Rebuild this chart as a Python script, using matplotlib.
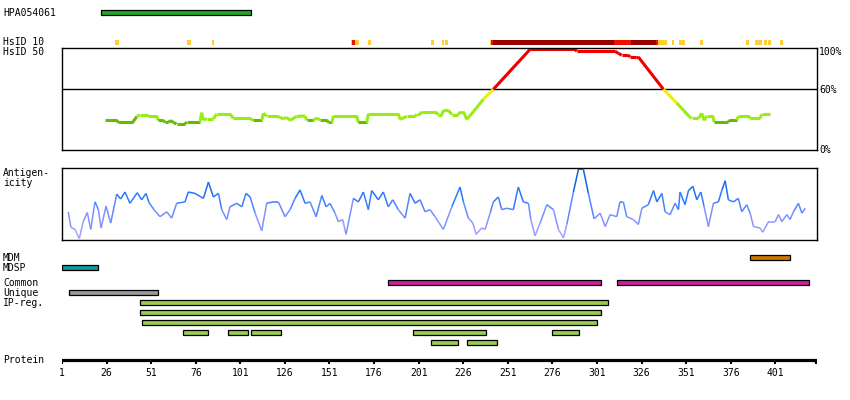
import numpy as np
import matplotlib.pyplot as plt
from matplotlib.collections import LineCollection
from matplotlib.colors import LinearSegmentedColormap

plt.rcParams['font.family'] = ['DejaVu Sans Mono']
FS = 7

# ---- data (residue positions) ----
protein_len = 424
tick_pos = list(range(1, 402, 25))

hpa_name = 'HPA054061'
hpa_range = [(23, 107)]

hsid10_start = [30.7, 71.3, 85.1, 163.1, 163.8, 165.3, 172.6, 208, 214.1, 215.8, 241, 241.6,
                242.6, 310.6, 319.9, 334.1, 335.3, 343.2, 347.2, 358.8, 384.6, 389.7, 394.7,
                396.9, 403.7]
hsid10_end = [33.1, 73.2, 86.1, 163.8, 165.3, 167.4, 174.1, 209.6, 215.2, 217.3, 241.6, 242.6,
              310.6, 319.9, 334.1, 335.3, 340.4, 344.3, 350.6, 360.3, 386.3, 393.6, 396.4,
              398.6, 405.4]
hsid10_level = ['y', 'y', 'y', 'y', 'r', 'y', 'y', 'y', 'y', 'y', 'y', 'r',
                'd', 'r', 'd', 'r', 'y', 'y', 'y', 'y', 'y', 'y', 'y', 'y', 'y']

hsid50_pos = [25.1, 31.7, 32.6, 40.6, 42.9, 44.7, 48.5, 49.4, 54.1, 55, 57.8, 58.8, 60.6, 62,
              63.4, 65.3, 70, 70.9, 78.4, 79.3, 80.3, 82.2, 85.9, 87.8, 95.2, 97.1, 106.4,
              108.3, 113, 113.9, 115.8, 121.4, 123.3, 125.1, 127, 128.9, 132.6, 137.3, 138.2,
              141.9, 143.8, 145.7, 149.5, 150.4, 152.3, 153.2, 166.3, 167.2, 171.9, 172.8,
              189.6, 190.6, 194.3, 199, 200, 201.8, 202.8, 210.2, 212.1, 214, 214.9, 217.7,
              219.6, 223.3, 224.2, 226.1, 228, 231.7, 237.3, 242.9, 263.5, 288.7, 289.7,
              311.2, 313, 314.9, 318.6, 319.6, 323, 324.2, 338.3, 345.8, 353.2, 354.1, 357.9,
              359.8, 361.1, 362.6, 366, 366.7, 374.7, 375.3, 379.4, 380.3, 386, 387, 392.5,
              393.4, 398.1]
hsid50_val = [29, 29, 27, 27, 32.7, 34.6, 34.6, 33, 33, 29, 29, 27, 27, 29,
              27, 25.5, 25.5, 27.4, 27.4, 36.6, 29.4, 30.7, 30.7, 35.3, 35.3, 31, 31,
              29, 29, 36, 33, 33, 32, 30.5, 32, 29, 33, 33.3, 29,
              29, 31.4, 29.4, 29.4, 27, 27, 33.3, 33.3, 27, 27, 35.6,
              35.6, 30, 33, 33, 35, 35, 37.6, 37.6, 34.6, 34.6, 39, 39,
              34.6, 34.6, 37.6, 37.6, 30, 37.6, 49.7, 59.5, 98.7, 98.7, 96.7,
              96.7, 94.8, 93, 93, 91.2, 91.2, 91.2, 59.5, 46, 32, 31, 31,
              36, 29, 33.3, 33.3, 27.4, 27.4, 29.4, 29.4, 33, 33, 31, 31,
              35, 35]

antigen_pos = [4.5, 6.0, 8.3, 10.7, 12.9, 15.2, 17.1, 19.5, 21.4, 22.9, 25.7, 28.3, 31.7, 33.9,
               36.3, 39.1, 43.2, 45.7, 48.1, 49.8, 52.6, 56.0, 59.7, 62.5, 65.3, 70.0, 71.8,
               75.6, 80.3, 83.1, 85.9, 88.7, 90.6, 93.4, 95.2, 99.0, 101.8, 104.2, 106.5,
               109.3, 113.0, 115.8, 119.5, 122.3, 126.1, 128.9, 131.7, 134.5, 137.3, 140.1,
               143.5, 146.7, 149.1, 151.3, 154.1, 156.0, 158.4, 160.3, 164.4, 167.2, 170.0,
               172.8, 174.7, 178.4, 181.2, 184.0, 186.5, 189.6, 193.4, 196.2, 199.0, 201.8,
               204.6, 207.4, 210.2, 214.9, 219.6, 224.2, 226.1, 228.9, 231.4, 233.2, 236.4,
               238.3, 241.1, 242.9, 245.7, 247.6, 250.4, 254.1, 256.9, 259.7, 262.6, 263.9,
               266.3, 269.1, 272.9, 276.6, 279.4, 282.2, 284.1, 287.8, 290.6, 293.4, 296.2,
               299.4, 302.8, 305.6, 308.4, 312.1, 313.9, 315.8, 317.7, 321.4, 324.2, 326.2,
               329.8, 332.7, 334.6, 337.4, 339.2, 342.0, 344.8, 346.7, 347.6, 350.4, 352.3,
               354.8, 357.0, 359.3, 361.1, 363.5, 366.3, 369.1, 371.0, 372.9, 374.7, 377.5,
               380.3, 382.2, 385.0, 386.9, 388.8, 392.5, 394.0, 397.2, 400.9, 402.8, 404.7,
               407.5, 409.3, 411.2, 414.0, 415.9, 417.8]
antigen_val = [0.39, 0.17, 0.14, 0.01, 0.25, 0.38, 0.14, 0.53, 0.42, 0.16, 0.47, 0.23, 0.64, 0.57,
               0.67, 0.51, 0.66, 0.56, 0.65, 0.52, 0.42, 0.32, 0.39, 0.30, 0.51, 0.53, 0.67,
               0.65, 0.58, 0.81, 0.60, 0.65, 0.42, 0.28, 0.46, 0.51, 0.46, 0.65, 0.60,
               0.37, 0.12, 0.51, 0.53, 0.53, 0.32, 0.42, 0.58, 0.70, 0.51, 0.53,
               0.32, 0.62, 0.46, 0.51, 0.37, 0.25, 0.28, 0.07, 0.58, 0.53, 0.67,
               0.42, 0.69, 0.56, 0.67, 0.46, 0.56, 0.42, 0.30, 0.65, 0.51, 0.56,
               0.39, 0.42, 0.32, 0.14, 0.46, 0.74, 0.53, 0.30, 0.23, 0.07, 0.16,
               0.14, 0.37, 0.53, 0.60, 0.42, 0.44, 0.42, 0.74, 0.53, 0.51, 0.28,
               0.05, 0.23, 0.49, 0.42, 0.14, 0.02, 0.21, 0.67, 0.99, 0.99, 0.65,
               0.29, 0.37, 0.18, 0.35, 0.32, 0.53, 0.53, 0.32, 0.28, 0.21, 0.44,
               0.49, 0.69, 0.53, 0.65, 0.39, 0.35, 0.51, 0.42, 0.67, 0.49, 0.69,
               0.75, 0.56, 0.67, 0.46, 0.18, 0.51, 0.53, 0.69, 0.83, 0.56, 0.53,
               0.58, 0.39, 0.49, 0.37, 0.18, 0.16, 0.10, 0.25, 0.25, 0.35, 0.25,
               0.35, 0.28, 0.39, 0.51, 0.37, 0.44]

mdm_ranges = [(387, 409)]
mdsp_ranges = [(1, 21)]
common_ranges = [(184, 303), (312, 420)]
unique_ranges = [(5, 55)]
ipreg_rows = [
    [(45, 307)],
    [(45, 303)],
    [(46, 301)],
    [(69, 83), (94, 105.5), (107, 124), (198, 239), (276, 291)],
    [(208, 223), (228, 245)],
]

# ---- layout (pixels) ----
W, H = 850, 400
X0, X1 = 62, 817
XLIM = (1, 424.4)

fig = plt.figure(figsize=(W / 100, H / 100), dpi=100)


def px_axes(x0, y0, x1, y1):
    return fig.add_axes([x0 / W, 1 - y1 / H, (x1 - x0) / W, (y1 - y0) / H])


def label(x, y, s, **kw):
    fig.text(x / W, 1 - y / H, s, fontsize=FS, va='center', **kw)


# overlay for bar tracks, y in pixels
ov = px_axes(X0, 0, X1, H)
ov.set_xlim(*XLIM)
ov.set_ylim(H, 0)
ov.axis('off')


def bars(ranges, yc, color, h=5, edge=True):
    for s, e in ranges:
        ov.barh(yc, e - s, left=s, height=h, color=color,
                edgecolor='black' if edge else 'none', linewidth=0.9 if edge else 0)


bars(hpa_range, 12.5, '#22a722')

lvl_col = {'y': '#ffcc33', 'r': '#ee1100', 'd': '#990000'}
for s, e, l in zip(hsid10_start, hsid10_end, hsid10_level):
    ov.barh(42.5, e - s, left=s, height=5, color=lvl_col[l], linewidth=0)

bars(mdm_ranges, 257.8, '#cc7700')
bars(mdsp_ranges, 267.8, '#139aa0')
bars(common_ranges, 282.4, '#cc1f9e')
bars(unique_ranges, 292.4, '#999999')
for i, row in enumerate(ipreg_rows):
    bars(row, 302.4 + 10 * i, '#99cc55')

# protein axis
ov.hlines(359.5, 1, protein_len, color='black', lw=2.3)
ov.vlines(tick_pos + [protein_len], 359, 364, color='black', lw=1.5)
for t in tick_pos:
    ov.text(t, 372.5, str(t), ha='center', va='center', fontsize=FS)

# ---- HsID 50 panel ----
ax1 = px_axes(X0, 48, X1, 150)
ax1.set_xlim(*XLIM)
ax1.set_ylim(0, 100)
ax1.set_xticks([])
ax1.set_yticks([])
for sp in ax1.spines.values():
    sp.set_linewidth(1.0)
ax1.axhline(60, color='black', lw=1.0)


def id_color(v):
    if v >= 60:
        return '#ee0000'
    if v >= 45:
        return '#eeee11'
    if v >= 30:
        return '#99ee11'
    return '#66bb00'


p = np.column_stack([hsid50_pos, hsid50_val])
segs = np.stack([p[:-1], p[1:]], axis=1)
cols = [id_color((a + b) / 2) for a, b in zip(hsid50_val[:-1], hsid50_val[1:])]
ax1.add_collection(LineCollection(segs, colors=cols, linewidths=2.2, capstyle='butt'))

label(819, 52, '100%')
label(819, 90, '60%')
label(819, 150, '0%')

# ---- Antigenicity panel ----
ax2 = px_axes(X0, 168, X1, 240)
ax2.set_xlim(*XLIM)
ax2.set_ylim(-0.01, 1.01)
ax2.set_xticks([])
ax2.set_yticks([])
for sp in ax2.spines.values():
    sp.set_linewidth(1.0)

cmap = LinearSegmentedColormap.from_list(
    'ag', [(0, '#b4a4ff'), (0.35, '#7a90ff'), (0.6, '#2a78ff'), (0.85, '#0a62e0'), (1.0, '#003a88')])
q = np.column_stack([antigen_pos, antigen_val])
segs2 = np.stack([q[:-1], q[1:]], axis=1)
mid = (np.array(antigen_val[:-1]) + np.array(antigen_val[1:])) / 2
ax2.add_collection(LineCollection(segs2, colors=cmap(mid), linewidths=1.1))

# ---- left labels ----
label(3, 12.5, hpa_name)
label(3, 42.3, 'HsID 10')
label(3, 52.3, 'HsID 50')
label(3, 172.7, 'Antigen-')
label(3, 183.3, 'icity')
label(3, 257.7, 'MDM')
label(3, 267.7, 'MDSP')
label(3, 282.7, 'Common')
label(3, 292.7, 'Unique')
label(3, 303.3, 'IP-reg.')
label(3, 360, 'Protein')

fig.savefig('out.png', dpi=100)
